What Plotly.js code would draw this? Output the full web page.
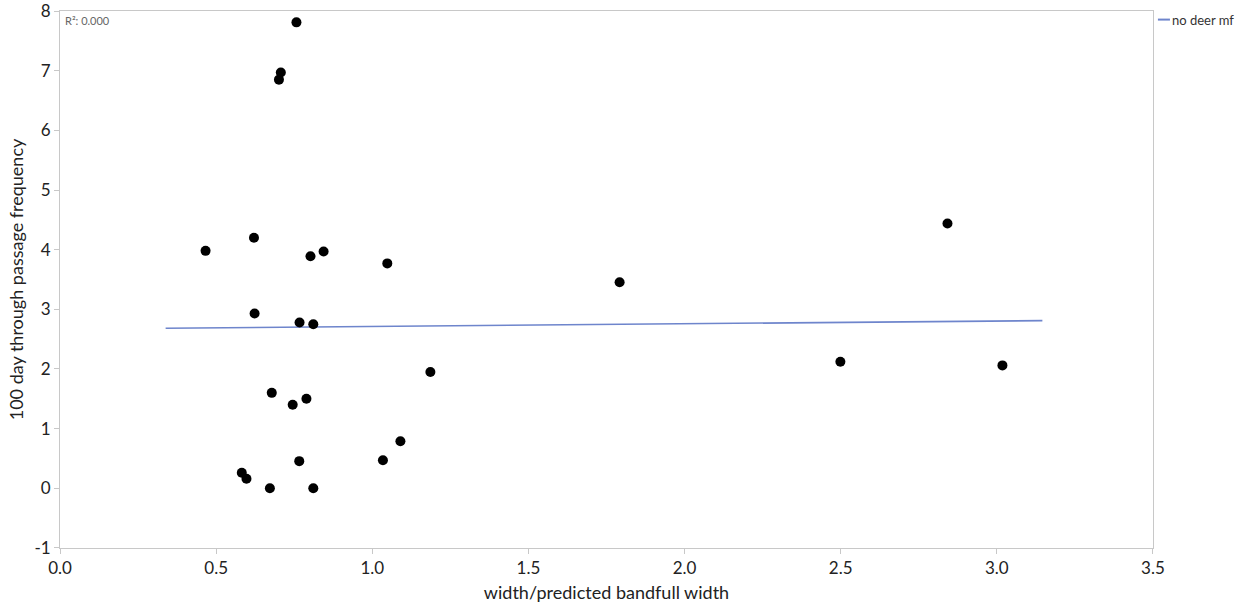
<!DOCTYPE html>
<html>
<head>
<meta charset="utf-8">
<script src="https://cdn.plot.ly/plotly-3.0.1.min.js"></script>
<style>html,body{margin:0;padding:0;background:#fff;}#chart{width:1247px;height:605px;}</style>
</head>
<body>
<div id="chart"></div>
<script>
// Data
const widthRatio = [0.466, 0.621, 0.802, 0.844, 1.048, 0.623, 0.767, 0.811, 1.186, 0.678, 0.745, 0.789, 1.090, 1.034, 0.766, 0.582, 0.597, 0.672, 0.811, 0.757, 0.707, 0.701, 1.792, 2.842, 2.499, 3.018];
const passageFreq = [3.98, 4.20, 3.89, 3.97, 3.77, 2.93, 2.78, 2.75, 1.95, 1.60, 1.40, 1.50, 0.79, 0.47, 0.455, 0.26, 0.16, 0.0, 0.0, 7.81, 6.97, 6.85, 3.455, 4.44, 2.12, 2.06];
const fitX = [0.338, 3.146];
const fitY = [2.683, 2.81];
const seriesName = "no deer mf";
const r2Label = "R²: 0.000";
const xTicks = [0, 0.5, 1, 1.5, 2, 2.5, 3, 3.5];
const xTickText = ["0.0", "0.5", "1.0", "1.5", "2.0", "2.5", "3.0", "3.5"];
const yTicks = [-1, 0, 1, 2, 3, 4, 5, 6, 7, 8];
const yTickText = ["-1", "0", "1", "2", "3", "4", "5", "6", "7", "8"];

const FONT = "Lato, 'Open Sans', sans-serif";
const lineColor = "#6e85cc";

const traces = [
  {x: fitX, y: fitY, type: "scatter", mode: "lines", name: seriesName,
   line: {color: lineColor, width: 1.6}, showlegend: false, hoverinfo: "skip"},
  {x: widthRatio, y: passageFreq, type: "scatter", mode: "markers",
   marker: {color: "#000", size: 10}, showlegend: false}
];

const layout = {
  width: 1247, height: 605,
  margin: {l: 59.5, r: 94, t: 10.5, b: 56.5},
  paper_bgcolor: "#fff", plot_bgcolor: "#fff",
  font: {family: FONT, color: "#222"},
  xaxis: {
    range: [-0.0002, 3.5002], tickvals: xTicks, ticktext: xTickText,
    showgrid: false, zeroline: false, showline: true, linecolor: "#c8c8c8", linewidth: 1, mirror: true,
    ticks: "outside", ticklen: 5, tickcolor: "#c8c8c8", ticklabeloverflow: "allow",
    tickfont: {family: FONT, size: 17, color: "#222"},
    title: {text: "width/predicted bandfull width", font: {family: FONT, size: 18, color: "#222"}, standoff: 8}
  },
  yaxis: {
    range: [-1.0005, 8.0005], tickvals: yTicks, ticktext: yTickText,
    showgrid: false, zeroline: false, showline: true, linecolor: "#c8c8c8", linewidth: 1, mirror: true,
    ticks: "outside", ticklen: 5, tickcolor: "#c8c8c8", ticklabeloverflow: "allow",
    tickfont: {family: FONT, size: 17, color: "#222"},
    title: {text: "100 day through passage frequency", font: {family: FONT, size: 18, color: "#222"}, standoff: 6}
  },
  shapes: [
    {type: "line", xref: "paper", yref: "paper", x0: 1.0045, x1: 1.0155, y0: 0.984, y1: 0.984,
     line: {color: lineColor, width: 2}}
  ],
  annotations: [
    {xref: "paper", yref: "paper", x: 0.003, y: 0.998, xanchor: "left", yanchor: "top",
     text: r2Label, showarrow: false, font: {family: FONT, size: 11, color: "#666"}},
    {xref: "paper", yref: "paper", x: 1.016, y: 0.984, xanchor: "left", yanchor: "middle",
     text: seriesName, showarrow: false, font: {family: FONT, size: 13, color: "#333"}}
  ]
};

Plotly.newPlot("chart", traces, layout, {displayModeBar: false, staticPlot: true});
</script>
</body>
</html>
